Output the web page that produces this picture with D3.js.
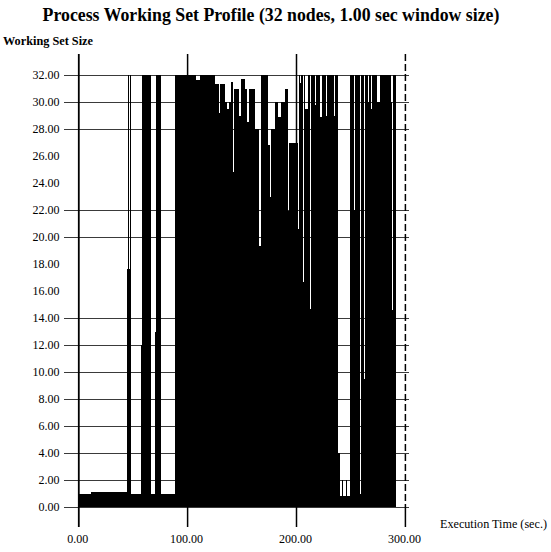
<!DOCTYPE html>
<html>
<head>
<meta charset="utf-8">
<script src="https://cdn.jsdelivr.net/npm/d3@7"></script>
<style>
  html, body { margin: 0; padding: 0; background: #fff; }
  svg { display: block; }
  text { font-family: "Liberation Serif", "DejaVu Serif", serif; fill: #000; }
</style>
</head>
<body>
<svg id="chart" width="551" height="552"></svg>
<script>
// ---------- data ----------
const titleText = "Process Working Set Profile (32 nodes, 1.00 sec window size)";
const yAxisTitle = "Working Set Size";
const xAxisTitle = "Execution Time (sec.)";

const yTickValues = [0, 2, 4, 6, 8, 10, 12, 14, 16, 18, 20, 22, 24, 26, 28, 30, 32];
const yTickLabels = ["0.00","2.00","4.00","6.00","8.00","10.00","12.00","14.00","16.00","18.00","20.00","22.00","24.00","26.00","28.00","30.00","32.00"];
const yGridHidden = [16, 18, 24, 26];
const xTickValues = [0, 100, 200, 300];
const xTickLabels = ["0.00", "100.00", "200.00", "300.00"];

// working set size per 1-second window, t = 0 .. 290
const workingSet = [
  // 0-9
  1.0, 1.0, 1.0, 1.0, 1.0, 1.0, 1.0, 1.0, 1.0, 1.0,
  // 10-19
  1.0, 1.1, 1.1, 1.1, 1.1, 1.1, 1.1, 1.1, 1.1, 1.1,
  // 20-29
  1.1, 1.1, 1.1, 1.1, 1.1, 1.1, 1.1, 1.1, 1.1, 1.1,
  // 30-39
  1.1, 1.1, 1.1, 1.1, 1.1, 1.1, 1.1, 1.1, 1.1, 1.1,
  // 40-49
  1.1, 1.1, 1.1, 1.1, 17.6, 32, 17.6, 32, 1.0, 1.0,
  // 50-59
  1.0, 1.0, 1.0, 1.0, 1.0, 1.0, 1.0, 12, 32, 32,
  // 60-69
  32, 32, 32, 32, 32, 32, 1.0, 1.0, 1.0, 1.0,
  // 70-79
  13, 32, 32, 32, 32, 32, 1.0, 1.0, 1.0, 1.0,
  // 80-89
  1.0, 1.0, 1.0, 1.0, 1.0, 1.0, 1.0, 1.0, 32, 32,
  // 90-99
  32, 32, 32, 32, 32, 32, 32, 32, 32, 32,
  // 100-109
  32, 32, 32, 32, 32, 32, 32, 32, 31.6, 31.6,
  // 110-119
  31.6, 32, 32, 32, 32, 32, 32, 32, 32, 32,
  // 120-129
  32, 32, 32, 32, 32, 31.3, 31.3, 31.3, 31.3, 29.2,
  // 130-139
  31.3, 31.3, 31.3, 31.3, 30, 30, 29.5, 29.5, 30, 30,
  // 140-149
  31.5, 31.5, 24.8, 31, 31, 31, 31, 29, 29, 31.7,
  // 150-159
  31.7, 31.7, 31.7, 31, 31, 28.5, 31, 31, 31, 31,
  // 160-169
  31, 31, 28, 28, 28, 28, 19.3, 32, 32, 32,
  // 170-179
  32, 32, 32, 32, 26.8, 26.8, 23, 28, 28, 28,
  // 180-189
  30, 30, 30, 28.9, 28.9, 28.9, 30, 30, 30, 31,
  // 190-199
  31, 31, 21.9, 27, 27, 27, 27, 27, 27, 27,
  // 200-209
  27, 20.6, 32, 31.4, 32, 32, 16.7, 32, 29.5, 29.5,
  // 210-219
  29.5, 32, 14.7, 32, 32, 32, 32, 29.8, 32, 32,
  // 220-229
  32, 32, 28.9, 32, 32, 32, 32, 29, 32, 32,
  // 230-239
  32, 32, 32, 32, 29, 32, 32, 32, 4, 4,
  // 240-249
  0.8, 0.8, 2, 0.8, 0.8, 2, 0.8, 0.8, 0.8, 32,
  // 250-259
  32, 32, 32, 22, 32, 32, 32, 32, 1, 32,
  // 260-269
  32, 32, 9.5, 32, 32, 32, 30, 32, 29.5, 32,
  // 270-279
  32, 32, 32, 32, 30, 30, 30, 32, 32, 32,
  // 280-290
  32, 32, 32, 32, 32, 32, 32, 30, 14.6, 32, 32
];

// ---------- drawing ----------
const svg = d3.select("#chart");

const x = d3.scaleLinear().domain([0, 300]).range([78.7, 405.4]);
const y = d3.scaleLinear().domain([0, 32]).range([507, 75]);

const gridLeft = x(0) - 15;
const gridRight = x(300) + 4;
const yTop = 54;
const yBottom = 527;

// horizontal grid lines + left tick marks
svg.append("g").selectAll("line")
  .data(yTickValues.filter(v => !yGridHidden.includes(v)))
  .join("line")
  .attr("x1", gridLeft).attr("x2", gridRight)
  .attr("y1", d => y(d)).attr("y2", d => y(d))
  .attr("stroke", "#3a3a3a").attr("stroke-width", 1)
  .attr("shape-rendering", "crispEdges");

// vertical grid lines at x ticks (beneath data)
svg.append("g").selectAll("line")
  .data(xTickValues)
  .join("line")
  .attr("x1", d => x(d)).attr("x2", d => x(d))
  .attr("y1", yTop).attr("y2", y(0))
  .attr("stroke", "#000").attr("stroke-width", 1.5)
  .attr("stroke-dasharray", d => d === 300 ? "7,3" : null);

// data area (1-second windows as steps)
const pts = workingSet.map((v, i) => [i, v]);
pts.push([workingSet.length, workingSet[workingSet.length - 1]]);
const area = d3.area()
  .x(d => x(d[0]))
  .y0(y(0))
  .y1(d => y(d[1]))
  .curve(d3.curveStepAfter);
svg.append("path")
  .datum(pts)
  .attr("d", area)
  .attr("fill", "#000")
  .attr("shape-rendering", "crispEdges");

// y axis line
svg.append("line")
  .attr("x1", x(0)).attr("x2", x(0))
  .attr("y1", yTop).attr("y2", yBottom)
  .attr("stroke", "#000").attr("stroke-width", 1.5);

// x ticks below the plot
svg.append("g").selectAll("line")
  .data(xTickValues)
  .join("line")
  .attr("x1", d => x(d)).attr("x2", d => x(d))
  .attr("y1", y(0)).attr("y2", yBottom)
  .attr("stroke", "#000").attr("stroke-width", 1.5);

// y tick labels
svg.append("g").selectAll("text")
  .data(yTickValues)
  .join("text")
  .attr("x", 59.5)
  .attr("y", d => y(d) + 4)
  .attr("text-anchor", "end")
  .attr("font-size", 12)
  .text((d, i) => yTickLabels[i]);

// x tick labels
svg.append("g").selectAll("text")
  .data(xTickValues)
  .join("text")
  .attr("x", d => x(d) - 1)
  .attr("y", 543)
  .attr("text-anchor", "middle")
  .attr("font-size", 12)
  .text((d, i) => xTickLabels[i]);

// titles
svg.append("text")
  .attr("x", 271).attr("y", 21)
  .attr("text-anchor", "middle")
  .attr("font-size", 17.8).attr("font-weight", "bold")
  .text(titleText);

svg.append("text")
  .attr("x", 3).attr("y", 45)
  .attr("font-size", 12).attr("font-weight", "bold")
  .attr("textLength", 90).attr("lengthAdjust", "spacingAndGlyphs")
  .text(yAxisTitle);

svg.append("text")
  .attr("x", 440).attr("y", 528)
  .attr("font-size", 12)
  .attr("textLength", 107).attr("lengthAdjust", "spacingAndGlyphs")
  .text(xAxisTitle);
</script>
</body>
</html>
